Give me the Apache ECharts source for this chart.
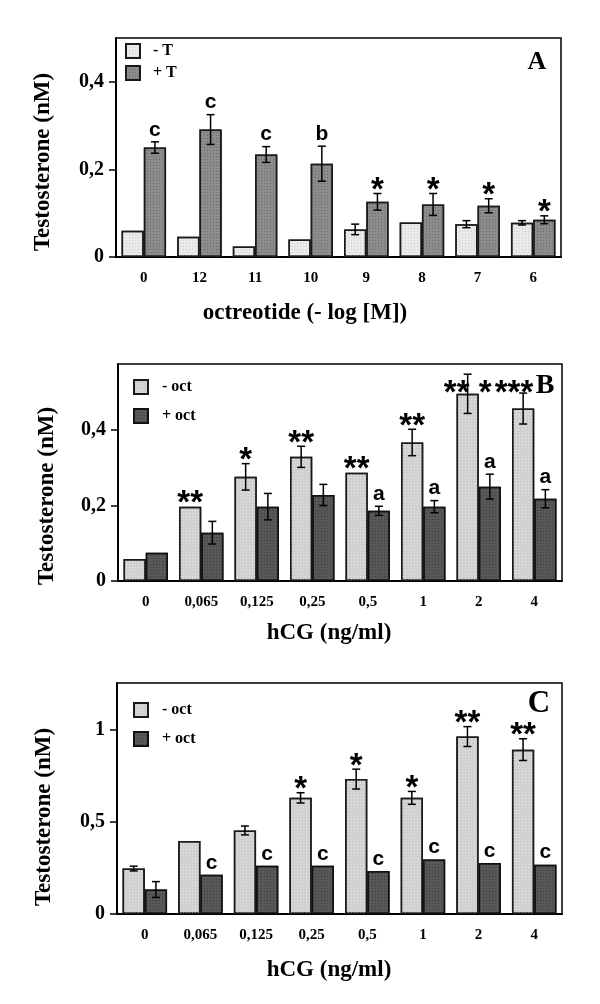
<!DOCTYPE html>
<html>
<head>
<meta charset="utf-8">
<script src="https://cdn.jsdelivr.net/npm/echarts@6/dist/echarts.min.js"></script>
<style>
  html, body { margin: 0; padding: 0; background: #fff; }
  #main { width: 600px; height: 1004px; }
</style>
</head>
<body>
<div id="main"></div>
<script>
// panel A: octreotide dose, -T / +T
const catsA = ['0', '12', '11', '10', '9', '8', '7', '6'];
const minusT = [0.060, 0.046, 0.024, 0.040, 0.063, 0.079, 0.075, 0.078];
const minusTErr = [0, 0, 0, 0, 0.012, 0, 0.008, 0.005];
const plusT = [0.250, 0.291, 0.234, 0.213, 0.126, 0.120, 0.117, 0.085];
const plusTErr = [0.013, 0.034, 0.018, 0.040, 0.019, 0.025, 0.016, 0.009];
const minusTMarks = ['', '', '', '', '', '', '', ''];
const plusTMarks = ['c', 'c', 'c', 'b', '*', '*', '*', '*'];

// panels B and C: hCG dose, -oct / +oct
const catsHcg = ['0', '0,065', '0,125', '0,25', '0,5', '1', '2', '4'];
const minusOctB = [0.058, 0.197, 0.276, 0.329, 0.287, 0.367, 0.496, 0.457];
const minusOctBErr = [0, 0, 0.035, 0.028, 0, 0.035, 0.052, 0.041];
const plusOctB = [0.075, 0.128, 0.197, 0.228, 0.186, 0.197, 0.250, 0.218];
const plusOctBErr = [0, 0.030, 0.035, 0.028, 0.012, 0.016, 0.033, 0.024];
const minusOctBMarks = ['', '**', '*', '**', '**', '**', '** *', '***  '];
const plusOctBMarks = ['', '', '', '', 'a', 'a', 'a', 'a'];

const minusOctC = [0.247, 0.396, 0.454, 0.631, 0.733, 0.631, 0.964, 0.893];
const minusOctCErr = [0.013, 0, 0.024, 0.028, 0.054, 0.035, 0.054, 0.059];
const plusOctC = [0.133, 0.213, 0.262, 0.262, 0.233, 0.296, 0.277, 0.268];
const plusOctCErr = [0.043, 0, 0, 0, 0, 0, 0, 0];
const minusOctCMarks = ['', '', '', '*', '*', '*', '**', '**'];
const plusOctCMarks = ['', 'c', 'c', 'c', 'c', 'c', 'c', 'c'];

const yTicksA = [0, 0.2, 0.4];
const yTicksB = [0, 0.2, 0.4];
const yTicksC = [0, 0.5, 1];

const serif = 'Liberation Serif';
const sans = 'Liberation Sans';

const chart = echarts.init(document.getElementById('main'), null, { renderer: 'canvas' });

function dots(color) {
  return { symbol: 'rect', symbolSize: 1, color: color, dashArrayX: [1, 2], dashArrayY: [1, 2] };
}
const lightA = { color: '#eaeaea', borderColor: '#1a1a1a', borderWidth: 1.5, decal: dots('#cdcdcd') };
const darkA = { color: '#8c8c8c', borderColor: '#1a1a1a', borderWidth: 1.5, decal: dots('#6a6a6a') };
const lightB = { color: '#d0d0d0', borderColor: '#1a1a1a', borderWidth: 1.5, decal: dots('#e4e4e4') };
const darkB = { color: '#585858', borderColor: '#111', borderWidth: 1.5, decal: dots('#3c3c3c') };

function xAxis(idx, cats) {
  return {
    type: 'category', gridIndex: idx, data: cats,
    axisLine: { lineStyle: { color: '#000', width: 2 } },
    axisTick: { alignWithLabel: true, length: 6, lineStyle: { color: '#000', width: 1.5 } },
    axisLabel: { interval: 0, margin: 14, color: '#000', fontFamily: serif, fontWeight: 'bold', fontSize: 15 },
    splitLine: { show: false }
  };
}
function yAxis(idx, max, ticks) {
  return {
    type: 'value', gridIndex: idx, min: 0, max: max,
    axisLine: { show: true, lineStyle: { color: '#000', width: 2 } },
    axisTick: { show: true, length: 7, customValues: ticks, lineStyle: { color: '#000', width: 1.5 } },
    axisLabel: {
      customValues: ticks, margin: 12, color: '#000', fontFamily: serif, fontWeight: 'bold', fontSize: 20,
      formatter: function (v) { return ticks.indexOf(v) >= 0 ? String(v).replace('.', ',') : ''; }
    },
    splitLine: { show: false }
  };
}
function bar(name, idx, data, style) {
  return {
    type: 'bar', name: name, xAxisIndex: idx, yAxisIndex: idx, data: data,
    barGap: '0%', barCategoryGap: '20%', itemStyle: style, z: 2, animation: false
  };
}
function errSeries(idx, lo, loErr, hi, hiErr, marks) {
  const rows = [];
  lo.forEach(function (v, i) { rows.push([i, v, loErr[i], 0]); });
  hi.forEach(function (v, i) { rows.push([i, v, hiErr[i], 1]); });
  return {
    type: 'custom', xAxisIndex: idx, yAxisIndex: idx, data: rows, z: 5, clip: false,
    encode: { x: 0, y: 1 }, animation: false, silent: true,
    renderItem: function (params, api) {
      const i = api.value(0), v = api.value(1), e = api.value(2), s = api.value(3);
      const band = api.size([1, 0])[0];
      const cx = api.coord([i, 0])[0] + (s === 0 ? -0.2 : 0.2) * band;
      const yv = api.coord([i, v])[1];
      const yHi = api.coord([i, v + e])[1];
      const yLo = api.coord([i, v - e])[1];
      const ls = { stroke: '#000', lineWidth: 1.5 };
      const children = [];
      if (e > 0) {
        children.push({ type: 'line', shape: { x1: cx, y1: yHi, x2: cx, y2: yLo }, style: ls });
        children.push({ type: 'line', shape: { x1: cx - 4, y1: yHi, x2: cx + 4, y2: yHi }, style: ls });
        children.push({ type: 'line', shape: { x1: cx - 4, y1: yLo, x2: cx + 4, y2: yLo }, style: ls });
      }
      const mark = marks[params.dataIndex];
      if (mark) {
        const star = mark.indexOf('*') >= 0;
        let yc = Math.min(yv, yHi) - (star ? 10 : 11);
        yc = Math.max(yc, params.coordSys.y + 22);
        children.push({
          type: 'text',
          style: {
            text: mark, x: cx, y: yc + (star ? 7.5 : -1), align: 'center', verticalAlign: 'middle',
            fontFamily: sans, fontWeight: 'bold', fontSize: star ? 33 : 21, fill: '#000'
          }
        });
      }
      return { type: 'group', children: children };
    }
  };
}
function legend(names, left, top, gap, pad) {
  return {
    data: names, left: left, top: top, orient: 'vertical', icon: 'rect', padding: 0,
    itemWidth: 14, itemHeight: 14, itemGap: gap, selectedMode: false,
    textStyle: { color: '#000', fontFamily: serif, fontWeight: 'bold', fontSize: 16, padding: [0, 0, 0, pad] }
  };
}
function label(text, x, y, size, rot) {
  return {
    type: 'text', x: x, y: y, rotation: rot || 0, silent: true,
    style: { text: text, align: 'center', verticalAlign: 'middle', fill: '#000', fontFamily: serif, fontWeight: 'bold', fontSize: size }
  };
}

const option = {
  backgroundColor: '#fff',
  animation: false,
  grid: [
    { left: 116, top: 38, width: 445, height: 219, show: true, borderColor: '#000', borderWidth: 1.5, backgroundColor: 'transparent', outerBoundsMode: 'none' },
    { left: 118, top: 364, width: 444, height: 217, show: true, borderColor: '#000', borderWidth: 1.5, backgroundColor: 'transparent', outerBoundsMode: 'none' },
    { left: 117, top: 683, width: 445, height: 231, show: true, borderColor: '#000', borderWidth: 1.5, backgroundColor: 'transparent', outerBoundsMode: 'none' }
  ],
  xAxis: [xAxis(0, catsA), xAxis(1, catsHcg), xAxis(2, catsHcg)],
  yAxis: [yAxis(0, 0.5, yTicksA), yAxis(1, 0.575, yTicksB), yAxis(2, 1.255, yTicksC)],
  legend: [
    legend(['- T', '+ T'], 125, 43, 6, 8),
    legend(['- oct', '+ oct'], 133, 379, 13, 9),
    legend(['- oct', '+ oct'], 133, 702, 13, 9)
  ],
  graphic: [
    label('Testosterone (nM)', 43, 162, 23, Math.PI / 2),
    label('Testosterone (nM)', 47, 496, 23, Math.PI / 2),
    label('Testosterone (nM)', 44, 817, 23, Math.PI / 2),
    label('octreotide (- log [M])', 305, 313, 23),
    label('hCG (ng/ml)', 329, 633, 23),
    label('hCG (ng/ml)', 329, 970, 23),
    label('A', 537, 62, 26),
    label('B', 545, 386, 28),
    label('C', 539, 704, 31)
  ],
  series: [
    bar('- T', 0, minusT, lightA),
    bar('+ T', 0, plusT, darkA),
    errSeries(0, minusT, minusTErr, plusT, plusTErr, minusTMarks.concat(plusTMarks)),
    bar('- oct', 1, minusOctB, lightB),
    bar('+ oct', 1, plusOctB, darkB),
    errSeries(1, minusOctB, minusOctBErr, plusOctB, plusOctBErr, minusOctBMarks.concat(plusOctBMarks)),
    bar('- oct', 2, minusOctC, lightB),
    bar('+ oct', 2, plusOctC, darkB),
    errSeries(2, minusOctC, minusOctCErr, plusOctC, plusOctCErr, minusOctCMarks.concat(plusOctCMarks))
  ]
};
chart.setOption(option);
</script>
</body>
</html>
